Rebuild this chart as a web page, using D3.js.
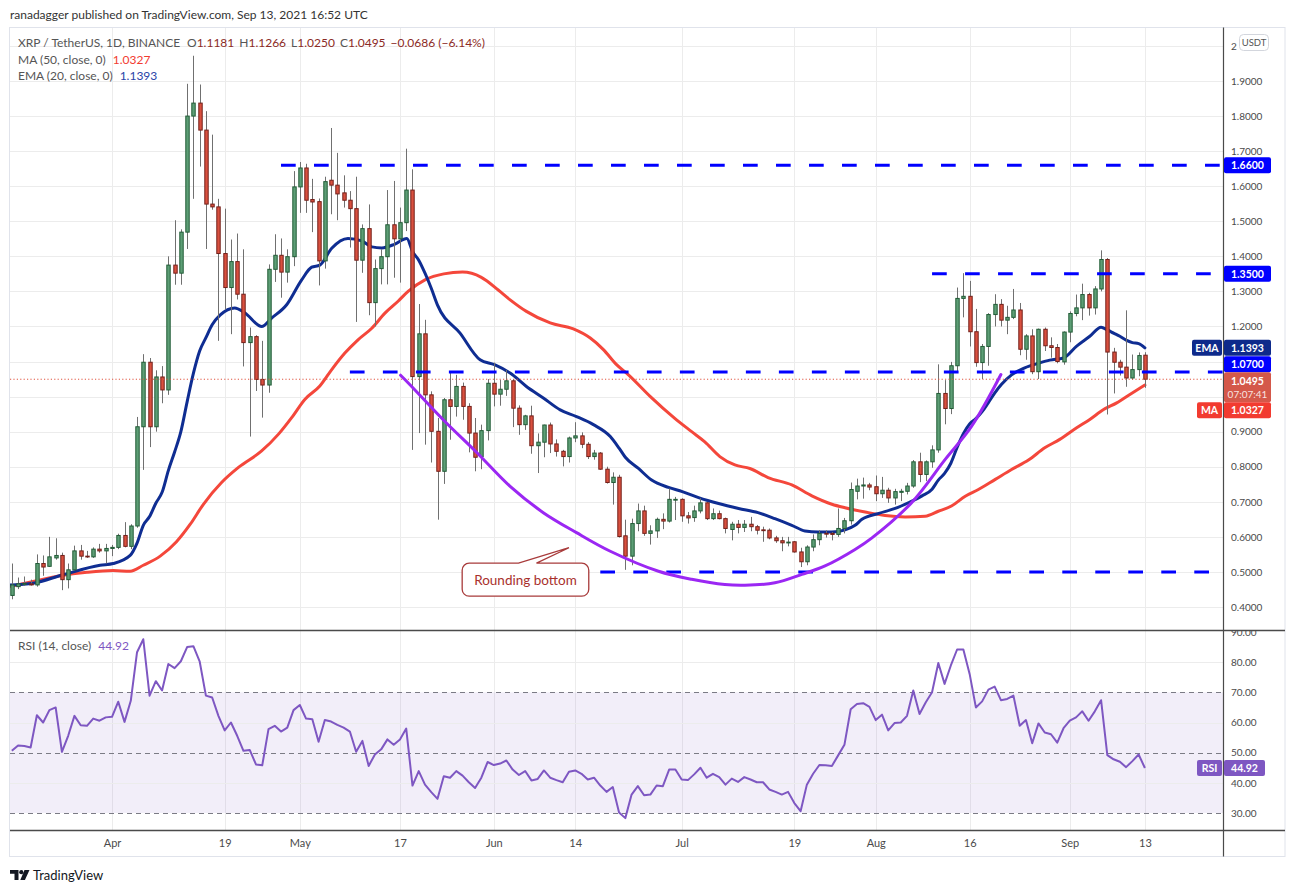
<!DOCTYPE html>
<html><head><meta charset="utf-8">
<script src="https://cdn.jsdelivr.net/npm/d3@7"></script>
<style>
html,body{margin:0;padding:0;background:#fff;}
svg{display:block;font-family:Lato,"Noto Sans",sans-serif;}
</style></head>
<body><svg id="c" width="1295" height="893"></svg>
<script>
// ---------------- DATA ----------------
const startDate = "2021-03-16"; // first daily candle, one candle per day
const opens = [
0.433,0.458,0.466,0.466,0.463,0.524,0.516,0.540,0.547,0.478,
0.506,0.560,0.545,0.543,0.565,0.560,0.567,0.570,0.604,0.573,
0.631,0.914,1.098,0.914,1.056,1.019,1.375,1.352,1.469,1.800,
1.837,1.760,1.549,1.541,1.408,1.311,1.385,1.292,1.154,1.171,
1.049,1.033,1.363,1.403,1.355,1.399,1.598,1.652,1.562,1.556,
1.387,1.617,1.603,1.581,1.560,1.536,1.389,1.479,1.268,1.365,
1.399,1.490,1.450,1.496,1.589,1.057,1.179,1.005,0.901,0.787,
0.991,0.972,1.029,0.972,0.896,0.829,0.903,1.038,1.007,1.021,
1.045,0.967,0.920,0.945,0.860,0.870,0.919,0.865,0.844,0.829,
0.882,0.888,0.864,0.829,0.839,0.793,0.755,0.770,0.603,0.545,
0.638,0.674,0.610,0.617,0.650,0.645,0.705,0.707,0.660,0.655,
0.674,0.697,0.652,0.666,0.652,0.621,0.636,0.627,0.636,0.629,
0.620,0.619,0.597,0.589,0.583,0.586,0.557,0.529,0.571,0.592,
0.610,0.610,0.607,0.624,0.646,0.730,0.745,0.748,0.743,0.723,
0.733,0.711,0.727,0.730,0.745,0.814,0.778,0.814,0.848,1.009,
0.966,1.088,1.280,1.286,1.185,1.097,1.143,1.234,1.263,1.218,
1.226,1.247,1.135,1.173,1.071,1.192,1.145,1.140,1.099,1.184,
1.237,1.253,1.291,1.253,1.307,1.391,1.127,1.098,1.084,1.053,
1.077,1.1181];
const highs = [
0.524,0.484,0.487,0.478,0.550,0.547,0.600,0.596,0.555,0.524,
0.575,0.577,0.560,0.570,0.580,0.580,0.577,0.609,0.642,0.636,
0.942,1.121,1.110,1.075,1.087,1.400,1.503,1.477,1.892,1.972,
1.890,1.814,1.747,1.564,1.536,1.448,1.465,1.420,1.197,1.175,
1.159,1.377,1.463,1.451,1.420,1.643,1.669,1.664,1.621,1.565,
1.627,1.766,1.695,1.631,1.586,1.627,1.491,1.548,1.391,1.420,
1.589,1.615,1.539,1.707,1.648,1.264,1.219,1.015,0.939,0.996,
1.069,1.062,1.040,0.981,0.939,0.920,1.050,1.097,1.048,1.076,
1.050,0.975,0.948,0.974,0.895,0.920,0.926,0.878,0.848,0.886,
0.927,0.898,0.870,0.848,0.842,0.800,0.784,0.777,0.649,0.652,
0.695,0.689,0.633,0.655,0.667,0.738,0.714,0.710,0.671,0.689,
0.710,0.700,0.681,0.675,0.655,0.643,0.648,0.648,0.657,0.634,
0.629,0.624,0.603,0.600,0.600,0.588,0.569,0.576,0.607,0.619,
0.619,0.614,0.681,0.654,0.755,0.766,0.769,0.754,0.775,0.771,
0.740,0.737,0.737,0.754,0.819,0.840,0.818,0.861,1.092,1.047,
1.099,1.311,1.352,1.330,1.250,1.150,1.238,1.292,1.278,1.259,
1.307,1.267,1.178,1.192,1.194,1.197,1.169,1.150,1.186,1.243,
1.291,1.322,1.296,1.315,1.417,1.395,1.139,1.105,1.246,1.120,
1.126,1.1266];
const lows = [
0.422,0.451,0.460,0.461,0.458,0.489,0.514,0.535,0.448,0.453,
0.504,0.535,0.540,0.540,0.555,0.524,0.545,0.565,0.570,0.565,
0.626,0.791,0.856,0.900,0.981,1.005,1.319,1.319,1.421,1.564,
1.656,1.421,1.533,1.159,1.249,1.178,1.277,1.086,0.886,1.016,
0.940,1.011,1.327,1.282,1.325,1.372,1.524,1.524,1.469,1.317,
1.365,1.520,1.503,1.539,1.425,1.213,1.353,1.232,1.200,1.320,
1.320,1.339,1.325,1.472,0.848,0.896,0.863,0.812,0.649,0.751,
0.877,0.943,0.934,0.841,0.787,0.793,0.875,0.972,0.974,1.002,
0.913,0.891,0.905,0.837,0.782,0.827,0.839,0.829,0.801,0.812,
0.870,0.853,0.822,0.820,0.791,0.752,0.692,0.598,0.506,0.519,
0.616,0.603,0.578,0.597,0.622,0.641,0.648,0.643,0.638,0.643,
0.667,0.648,0.648,0.650,0.610,0.590,0.610,0.614,0.616,0.607,
0.586,0.593,0.583,0.559,0.573,0.555,0.514,0.519,0.559,0.576,
0.598,0.590,0.600,0.610,0.635,0.707,0.709,0.733,0.702,0.711,
0.697,0.692,0.702,0.721,0.740,0.756,0.759,0.797,0.840,0.921,
0.950,1.069,1.226,1.143,1.085,1.050,1.088,1.200,1.200,1.178,
1.221,1.118,1.105,1.064,1.050,1.130,1.111,1.095,1.091,1.155,
1.229,1.218,1.231,1.234,1.300,0.949,1.009,1.060,1.028,1.048,
1.058,1.0250];
const closes = [
0.463,0.466,0.467,0.463,0.524,0.514,0.543,0.547,0.478,0.506,
0.560,0.545,0.543,0.565,0.560,0.567,0.570,0.604,0.573,0.631,
0.914,1.098,0.914,1.056,1.019,1.375,1.352,1.469,1.800,1.837,
1.760,1.549,1.541,1.408,1.311,1.385,1.292,1.154,1.171,1.049,
1.033,1.363,1.403,1.355,1.399,1.598,1.652,1.560,1.555,1.387,
1.613,1.603,1.578,1.560,1.536,1.389,1.479,1.268,1.365,1.399,
1.490,1.450,1.496,1.589,1.057,1.179,1.005,0.901,0.787,0.991,
0.972,1.029,0.972,0.896,0.827,0.903,1.038,1.007,1.021,1.045,
0.967,0.920,0.945,0.860,0.870,0.919,0.865,0.844,0.829,0.882,
0.888,0.864,0.829,0.839,0.793,0.755,0.770,0.601,0.545,0.638,
0.674,0.610,0.617,0.650,0.645,0.707,0.707,0.660,0.654,0.674,
0.697,0.652,0.666,0.652,0.624,0.636,0.627,0.636,0.629,0.619,
0.619,0.597,0.589,0.583,0.585,0.557,0.529,0.571,0.592,0.610,
0.608,0.607,0.624,0.646,0.735,0.745,0.748,0.742,0.723,0.733,
0.711,0.729,0.730,0.745,0.814,0.778,0.814,0.848,1.009,0.966,
1.088,1.280,1.286,1.185,1.097,1.143,1.234,1.263,1.218,1.226,
1.247,1.135,1.173,1.071,1.192,1.145,1.140,1.100,1.184,1.237,
1.253,1.291,1.253,1.307,1.391,1.127,1.098,1.084,1.053,1.077,
1.117,1.0495];
const rsiValues = [
50.6,52.4,52.2,51.7,62.4,60.0,64.1,65.0,50.3,55.6,
62.2,59.1,58.9,61.3,60.6,61.7,61.9,66.9,60.2,67.2,
83.3,87.6,68.9,73.7,70.6,79.4,78.0,80.3,85.0,85.3,
80.3,68.9,68.3,62.2,57.4,60.0,55.6,50.6,50.9,46.1,
45.8,57.8,58.9,57.0,58.3,64.1,65.8,61.3,61.1,53.6,
60.8,60.3,59.2,58.3,57.0,50.3,53.9,45.6,49.4,51.1,
54.4,52.6,54.4,58.0,39.1,43.9,39.4,36.9,34.7,42.2,
41.7,43.9,42.4,40.2,38.3,41.7,46.9,45.9,46.4,47.4,
44.4,42.6,43.9,40.8,41.3,44.1,41.7,40.9,40.2,43.7,
44.1,43.0,41.1,41.7,39.1,37.0,38.6,30.2,28.3,36.1,
38.9,35.9,36.1,39.1,38.9,44.4,44.4,41.1,40.9,42.8,
45.0,41.7,43.0,41.9,39.4,41.4,40.3,41.9,41.1,40.2,
40.2,37.8,37.0,36.1,37.0,33.3,30.6,39.4,43.0,45.9,
45.8,45.6,49.1,52.6,64.4,66.1,66.4,65.2,60.8,62.6,
57.4,59.8,60.0,62.2,70.6,62.8,66.7,70.0,79.7,72.8,
78.9,84.2,84.2,76.1,65.0,67.0,70.9,71.9,67.4,67.8,
68.9,58.9,60.8,53.1,59.7,56.7,56.1,53.3,58.1,60.6,
61.7,63.7,60.6,63.7,67.4,49.2,47.8,47.0,45.2,47.2,
49.4,44.92];
// EMA(20) line: day offset from startDate, value
const emaDay = [-0.3,3.4,8.2,14.1,16.2,18.9,20,21,22,23,24,25,26,27,28,29,30,31,32,33.3,35.6,37.2,39.9,41.5,43.9,46.3,47.9,49.2,51.1,53.7,55.9,57.5,59.1,61.2,63.1,64,65,66,67,68,71.6,74.8,77.1,79.6,82.2,84.9,87.6,90.2,92.9,95.6,97,98,100.1,102.2,104.9,107.1,109.7,112.9,116.1,119.2,121.9,124.6,126.7,128.8,131,133.1,134.7,135.8,138.5,141.1,143.3,145.4,147,148,149,150,151,152,153,154,155,156,157,158.1,159.7,161.8,164,165.8,168,170.1,172.2,174,175,176,177,178,179,180,181];
const emaValue = [0.463,0.468,0.492,0.519,0.524,0.547,0.582,0.633,0.658,0.696,0.727,0.789,0.842,0.900,0.985,1.066,1.130,1.168,1.205,1.233,1.253,1.239,1.200,1.224,1.262,1.333,1.369,1.375,1.423,1.451,1.444,1.427,1.424,1.435,1.451,1.414,1.389,1.352,1.309,1.261,1.181,1.105,1.091,1.067,1.029,0.996,0.962,0.943,0.920,0.886,0.853,0.827,0.795,0.762,0.741,0.729,0.712,0.695,0.681,0.669,0.652,0.633,0.617,0.614,0.614,0.620,0.633,0.650,0.667,0.681,0.698,0.717,0.736,0.762,0.781,0.810,0.855,0.894,0.922,0.937,0.957,0.983,1.010,1.035,1.062,1.082,1.095,1.104,1.110,1.144,1.172,1.198,1.190,1.181,1.172,1.161,1.154,1.151,1.139];
// MA(50) line
const maDay = [-0.3,3.4,7.7,12,16.2,18.9,21,23.7,26.3,28.5,30.6,33.5,36.2,39.9,42.6,44.7,46.8,49.2,51.1,53.2,55.3,57.5,59.6,61.7,63.3,66,69,72,75,77.7,79.6,82.2,86,89.7,92.4,94.5,96.6,98.5,102,105.9,108.6,110.7,113.1,115.5,117.9,120.8,124.6,127.8,131,133.1,136.3,139.5,142.7,145.9,148,150.1,152.3,154.4,157.1,159.7,162.4,165,167.4,170.1,172.2,174.4,176.5,178.6,181];
const maValue = [0.458,0.473,0.489,0.499,0.504,0.502,0.519,0.545,0.586,0.636,0.693,0.755,0.798,0.845,0.893,0.940,0.992,1.030,1.077,1.124,1.162,1.195,1.238,1.272,1.300,1.333,1.350,1.355,1.340,1.304,1.276,1.243,1.210,1.193,1.167,1.134,1.091,1.062,1.000,0.938,0.900,0.871,0.829,0.805,0.795,0.769,0.748,0.717,0.693,0.683,0.671,0.661,0.657,0.659,0.673,0.688,0.716,0.735,0.764,0.792,0.819,0.854,0.878,0.911,0.935,0.963,0.982,1.006,1.033];
// "Rounding bottom" arc drawing
const arcDay = [62.1,63.6,68.9,74.3,79.6,84.9,90.2,95.6,103.3,108.6,113.9,117.1,121.9,126.2,129.9,134.7,137.4,143.7,149.1,153.3,158];
const arcPrice = [1.061,1.034,0.934,0.840,0.744,0.669,0.612,0.559,0.502,0.479,0.464,0.462,0.469,0.493,0.517,0.564,0.597,0.697,0.821,0.915,1.063];
// horizontal levels (dashed) and the day they start
const levelPrice = [1.66, 1.35, 1.07, 0.50];
const levelStartDay = [43, 147, 54, 94];
const levelTagged = [true, true, true, false];
// callout
const calloutText = "Rounding bottom";
const calloutDay = 82.05, calloutPrice = 0.478, calloutTipDay = 89.0, calloutTipPrice = 0.569;
// axes
const priceTicks = [0.4,0.5,0.6,0.7,0.8,0.9,1.0,1.1,1.2,1.3,1.4,1.5,1.6,1.7,1.8,1.9,2.0];
const rsiTicks = [30,40,50,60,70,80,90];
const timeTickDates = ["2021-04-01","2021-04-19","2021-05-01","2021-05-17","2021-06-01","2021-06-14","2021-07-01","2021-07-19","2021-08-01","2021-08-16","2021-09-01","2021-09-13"];
const timeTickLabels = ["Apr","19","May","17","Jun","14","Jul","19","Aug","16","Sep","13"];
const lastMA = 1.0327, lastEMA = 1.1393, lastRSI = 44.92;
const countdown = "07:07:41";

// ---------------- CHART ----------------
const svg = d3.select("#c");
const L = 10, R = 1223.5, PT = 28, PB = 630.5, RT = 630.5, RB = 830.5, FB = 856.5, FR = 1285;
const DAY = 864e5;
const day0 = new Date(startDate + "T00:00:00Z");
const dOff = o => new Date(day0.getTime() + o * DAY);
const parseD = s => new Date(s + "T00:00:00Z");
const candles = opens.map((o, i) => ({d: dOff(i), o, h: highs[i], l: lows[i], c: closes[i]}));

const x = d3.scaleUtc().domain([dOff(0), dOff(181)]).range([11.84, 1144.9]);
const y = d3.scaleLinear().domain([0.4, 1.9]).range([607, 81]);
const yr = d3.scaleLinear().domain([30, 90]).range([813, 632]);

const GREEN = "#5d9e76", GREEN_S = "#225c37", RED = "#d9503f", RED_S = "#73201a";
const LEVEL = "#0000ff", EMA_C = "#0f2d92", MA_C = "#f4473b", ARC_C = "#9b27f3", RSI_C = "#7e57c2";
const GRID = "#ececec", AXIS_LINE = "#4a4a4a", TXT = "#4a4a4a";

const defs = svg.append("defs");
defs.append("clipPath").attr("id", "cp").append("rect").attr("x", L).attr("y", PT).attr("width", R - L).attr("height", PB - PT);
defs.append("clipPath").attr("id", "cr").append("rect").attr("x", L).attr("y", RT).attr("width", R - L).attr("height", RB - RT);
defs.append("clipPath").attr("id", "ca").append("rect").attr("x", R).attr("y", RT + 0.5).attr("width", FR - R).attr("height", RB - RT);

// frame
svg.append("rect").attr("x", 9.5).attr("y", 27.5).attr("width", FR - 9.5).attr("height", FB - 27.5)
  .attr("fill", "#fff").attr("stroke", "#e0e3eb");

// grid
const grid = svg.append("g");
grid.append("g").attr("clip-path", "url(#cp)").selectAll("line").data(priceTicks).join("line")
  .attr("x1", L).attr("x2", R).attr("y1", d => Math.round(y(d)) + 0.5).attr("y2", d => Math.round(y(d)) + 0.5)
  .attr("stroke", GRID);
grid.selectAll("line.v").data(timeTickDates).join("line").attr("class", "v")
  .attr("x1", d => Math.round(x(parseD(d))) + 0.5).attr("x2", d => Math.round(x(parseD(d))) + 0.5)
  .attr("y1", PT).attr("y2", RB).attr("stroke", GRID);

// RSI band + guide lines
const rsiG = svg.append("g").attr("clip-path", "url(#cr)");
rsiG.append("rect").attr("x", L).attr("width", R - L).attr("y", yr(70)).attr("height", yr(30) - yr(70))
  .attr("fill", "rgba(126,87,194,0.1)");
rsiG.selectAll("line.s").data([40, 60, 80]).join("line").attr("class", "s")
  .attr("x1", L).attr("x2", R).attr("y1", d => Math.round(yr(d)) + 0.5).attr("y2", d => Math.round(yr(d)) + 0.5).attr("stroke", GRID);
rsiG.selectAll("line.d").data([30, 50, 70]).join("line").attr("class", "d")
  .attr("x1", L).attr("x2", R).attr("y1", d => Math.round(yr(d)) + 0.5).attr("y2", d => Math.round(yr(d)) + 0.5)
  .attr("stroke", "#7b7b85").attr("stroke-dasharray", "5,4");
rsiG.append("path").datum(rsiValues).attr("fill", "none").attr("stroke", RSI_C).attr("stroke-width", 2)
  .attr("stroke-linejoin", "round")
  .attr("d", d3.line().x((v, i) => x(dOff(i))).y(v => yr(v)));

// price pane
const pp = svg.append("g").attr("clip-path", "url(#cp)");
const lineGen = d3.line().curve(d3.curveMonotoneX);
pp.append("path").attr("fill", "none").attr("stroke", MA_C).attr("stroke-width", 3).attr("stroke-linecap", "round")
  .attr("d", lineGen(maDay.map((d, i) => [x(dOff(d)), y(maValue[i])])));
pp.append("path").attr("fill", "none").attr("stroke", EMA_C).attr("stroke-width", 3).attr("stroke-linecap", "round")
  .attr("d", lineGen(emaDay.map((d, i) => [x(dOff(d)), y(emaValue[i])])));

// candles
const cg = pp.append("g");
cg.selectAll("line").data(candles).join("line")
  .attr("x1", d => Math.round(x(d.d)) + 0.5).attr("x2", d => Math.round(x(d.d)) + 0.5)
  .attr("y1", d => y(d.h)).attr("y2", d => y(d.l)).attr("stroke", "#707070").attr("stroke-width", 1);
cg.selectAll("rect").data(candles).join("rect")
  .attr("x", d => Math.round(x(d.d)) + 0.5 - 1.7).attr("width", 3.4)
  .attr("y", d => y(Math.max(d.o, d.c))).attr("height", d => Math.max(0.8, Math.abs(y(d.o) - y(d.c))))
  .attr("fill", d => d.c >= d.o ? GREEN : RED).attr("stroke", d => d.c >= d.o ? GREEN_S : RED_S).attr("stroke-width", 1);

// current price dotted line
const lastClose = closes[closes.length - 1];
pp.append("line").attr("x1", L).attr("x2", R).attr("y1", y(lastClose)).attr("y2", y(lastClose))
  .attr("stroke", "#e0533f").attr("stroke-width", 1).attr("stroke-dasharray", "1.2,2.2");

// levels
pp.selectAll("line.lv").data(levelPrice).join("line").attr("class", "lv")
  .attr("x1", (d, i) => x(dOff(levelStartDay[i]))).attr("x2", R)
  .attr("y1", d => y(d)).attr("y2", d => y(d))
  .attr("stroke", LEVEL).attr("stroke-width", 3).attr("stroke-dasharray", "14.7,18.3");

// arc
pp.append("path").attr("fill", "none").attr("stroke", ARC_C).attr("stroke-width", 3).attr("stroke-linecap", "round")
  .attr("d", d3.line().curve(d3.curveCatmullRom)(arcDay.map((d, i) => [x(dOff(d)), y(arcPrice[i])])));

// callout
(function () {
  const cx = x(dOff(calloutDay)), cy = y(calloutPrice);
  const tx = x(dOff(calloutTipDay)), ty = y(calloutTipPrice);
  const g = svg.append("g");
  const path = g.append("path");
  const t = g.append("text").attr("x", cx).attr("y", cy + 5).attr("text-anchor", "middle")
    .attr("font-size", 13.5).attr("fill", "#a8302c").text(calloutText);
  const tw = t.node().getComputedTextLength();
  const bw = tw + 24, bh = 33, r = 7;
  const l = cx - bw / 2, tp = cy - bh / 2, rt = l + bw, bt = tp + bh;
  const b1 = cx - 7, b2 = cx + 11;
  const d = `M${l + r},${tp} L${b1},${tp} L${tx},${ty} L${b2},${tp} L${rt - r},${tp} A${r},${r} 0 0 1 ${rt},${tp + r} L${rt},${bt - r} A${r},${r} 0 0 1 ${rt - r},${bt} L${l + r},${bt} A${r},${r} 0 0 1 ${l},${bt - r} L${l},${tp + r} A${r},${r} 0 0 1 ${l + r},${tp} Z`;
  path.attr("d", d).attr("fill", "#fff").attr("stroke", "#a83b3b").attr("stroke-width", 1.3);
})();

// pane borders and axis lines
svg.append("line").attr("x1", L).attr("x2", FR).attr("y1", RT).attr("y2", RT).attr("stroke", AXIS_LINE).attr("stroke-width", 1.3);
svg.append("line").attr("x1", L).attr("x2", FR).attr("y1", RB).attr("y2", RB).attr("stroke", AXIS_LINE).attr("stroke-width", 1.3);
svg.append("line").attr("x1", R).attr("x2", R).attr("y1", 27.5).attr("y2", FB).attr("stroke", AXIS_LINE).attr("stroke-width", 1.2);

// ---- tag layout (price axis labels hidden behind tags are not drawn) ----
const TH = 16, VX0 = R + 0.5, VX1 = 1271;
const curC = y(lastClose), curTop = curC - 7, curBot = curTop + 30;
function placed(price) {
  let c = y(price);
  if (c + TH / 2 > curTop && c - TH / 2 < curBot) c = (c < curC) ? curTop - TH / 2 : curBot + TH / 2;
  return c;
}
const tagSpecs = [];
levelPrice.forEach((p, i) => { if (levelTagged[i]) tagSpecs.push({c: placed(p), h: TH, fill: LEVEL, text: d3.format(".4f")(p)}); });
const emaY = placed(lastEMA), maY = placed(lastMA);
tagSpecs.push({c: emaY, h: TH, fill: "#0e2a8b", text: d3.format(".4f")(lastEMA), side: "EMA", sx: 1192});
tagSpecs.push({c: (curTop + curBot) / 2, h: 30, fill: "#d4584a", text: d3.format(".4f")(lastClose), sub: countdown});
tagSpecs.push({c: maY, h: TH, fill: "#f23b30", text: d3.format(".4f")(lastMA), side: "MA", sx: 1197});

// price axis
const pa = svg.append("g").attr("transform", `translate(${R},0)`)
  .call(d3.axisRight(y).tickValues(priceTicks).tickFormat(d => d >= 2 ? "2" : d3.format(".4f")(d)).tickSize(0).tickPadding(7.5));
pa.select(".domain").remove();
pa.selectAll("text").attr("font-family", "Lato").attr("font-size", 10).attr("fill", TXT);
pa.selectAll(".tick").filter(d => tagSpecs.some(t => Math.abs(y(d) - t.c) < t.h / 2 + 5)).remove();

// USDT box
svg.append("rect").attr("x", 1239.5).attr("y", 34.5).attr("width", 29).attr("height", 16).attr("rx", 4)
  .attr("fill", "#fff").attr("stroke", "#d3d6dd");
svg.append("text").attr("x", 1254).attr("y", 46).attr("text-anchor", "middle").attr("font-size", 9.5).attr("fill", "#555").text("USDT");

// rsi axis
const ra = svg.append("g").attr("clip-path", "url(#ca)").append("g").attr("transform", `translate(${R},0)`)
  .call(d3.axisRight(yr).tickValues(rsiTicks).tickFormat(d3.format(".2f")).tickSize(0).tickPadding(7.5));
ra.select(".domain").remove();
ra.selectAll("text").attr("font-family", "Lato").attr("font-size", 10).attr("fill", TXT);

// time axis
const ta = svg.append("g").attr("transform", `translate(0,${RB})`)
  .call(d3.axisBottom(x).tickValues(timeTickDates.map(parseD)).tickFormat((d, i) => timeTickLabels[i]).tickSize(0).tickPadding(9));
ta.select(".domain").remove();
ta.selectAll("text").attr("font-family", "Lato").attr("font-size", 11).attr("fill", TXT);

// tags
function tag(x0, x1, yc, h, fill, label, sub) {
  const g = svg.append("g");
  g.append("rect").attr("x", x0).attr("y", yc - h / 2).attr("width", x1 - x0).attr("height", h).attr("rx", 2).attr("fill", fill);
  if (sub) {
    g.append("text").attr("x", (x0 + x1) / 2).attr("y", yc - h / 2 + 12.5).attr("text-anchor", "middle")
      .attr("font-size", 10.5).attr("font-weight", 700).attr("fill", "#fff").text(label);
    g.append("text").attr("x", (x0 + x1) / 2).attr("y", yc - h / 2 + 26).attr("text-anchor", "middle")
      .attr("font-size", 10).attr("fill", "rgba(255,255,255,0.85)").text(sub);
  } else {
    g.append("text").attr("x", (x0 + x1) / 2).attr("y", yc + 4).attr("text-anchor", "middle")
      .attr("font-size", 10.5).attr("font-weight", 700).attr("fill", "#fff").text(label);
  }
}
tagSpecs.forEach(t => {
  if (t.side) tag(t.sx, R - 1.5, t.c, t.h, t.fill, t.side);
  tag(VX0, VX1, t.c, t.h, t.fill, t.text, t.sub);
});
tag(1197, R - 1.5, yr(lastRSI), TH, RSI_C, "RSI");
tag(VX0, 1265, yr(lastRSI), TH, RSI_C, d3.format(".2f")(lastRSI));

// header + legends
svg.append("text").attr("x", 10).attr("y", 19).attr("font-size", 12).attr("fill", "#333")
  .text("ranadagger published on TradingView.com, Sep 13, 2021 16:52 UTC");
const VAL = "#8c2a25";
const l1 = svg.append("text").attr("x", 18).attr("y", 46.5).attr("font-size", 12).attr("fill", "#555");
l1.append("tspan").text("XRP / TetherUS, 1D, BINANCE");
[["O", opens], ["H", highs], ["L", lows], ["C", closes]].forEach(([k, arr], i) => {
  l1.append("tspan").attr("dx", i === 0 ? 7 : 5).text(k);
  l1.append("tspan").attr("fill", VAL).text(d3.format(".4f")(arr[arr.length - 1]));
});
const chg = closes[closes.length - 1] - opens[opens.length - 1];
l1.append("tspan").attr("dx", 5).attr("fill", VAL)
  .text(`${d3.format(".4f")(chg).replace("-", "−")} (${d3.format(".2f")(chg / opens[opens.length - 1] * 100).replace("-", "−")}%)`);
const l2 = svg.append("text").attr("x", 18).attr("y", 63.5).attr("font-size", 12).attr("fill", "#555");
l2.append("tspan").text("MA (50, close, 0)");
l2.append("tspan").attr("dx", 7).attr("fill", "#f23b30").text(d3.format(".4f")(lastMA));
const l3 = svg.append("text").attr("x", 18).attr("y", 80).attr("font-size", 12).attr("fill", "#555");
l3.append("tspan").text("EMA (20, close, 0)");
l3.append("tspan").attr("dx", 7).attr("fill", "#2a44a8").text(d3.format(".4f")(lastEMA));
const l4 = svg.append("text").attr("x", 18).attr("y", 650).attr("font-size", 12).attr("fill", "#555");
l4.append("tspan").text("RSI (14, close)");
l4.append("tspan").attr("dx", 7).attr("fill", RSI_C).text(d3.format(".2f")(lastRSI));

// logo
const lg = svg.append("g").attr("fill", "#131722");
lg.append("path").attr("d", "M10,870 h8.5 v10 h-4 v-6.3 h-4.5 z");
lg.append("circle").attr("cx", 21.3).attr("cy", 872.2).attr("r", 2.1);
lg.append("path").attr("d", "M24.5,870 h5 l-4.6,10 h-4.6 z");
svg.append("text").attr("x", 33).attr("y", 880).attr("font-size", 13).attr("fill", "#131722").text("TradingView");
</script>
</body></html>
